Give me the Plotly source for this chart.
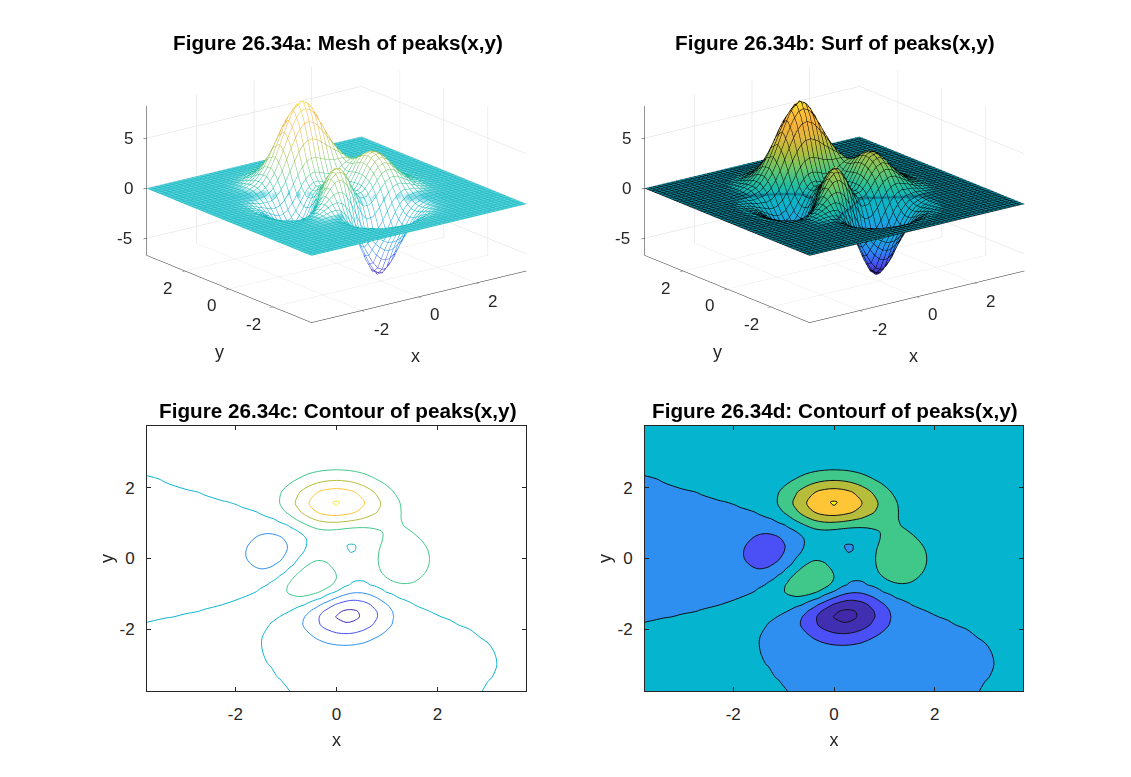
import math
import plotly.graph_objects as go

xs_main = [-3.75,-3.375,-3,-2.625,-2.25,-1.875,-1.5,-1.3125,-1.125,-.9375,-.75,-.5625,-.375,-.1875,0,.1875,.375,.5625,.75,.9375,1.125,1.3125,1.5,1.875,2.25,2.625,3,3.375,3.75]
ys_main = [-3.75,-3.375,-3,-2.625,-2.25,-1.875,-1.65,-1.5,-1.3125,-1.125,-.9375,-.75,-.5625,-.375,-.1875,0,.1875,.375,.5625,.75,.9375,1.125,1.3125,1.5,1.6,1.875,2.25,2.625,3,3.375,3.75]
z_main = [
[2.25e-8,2.68e-7,2.34e-6,1.49e-5,6.68e-5,2.09e-4,4.18e-4,4.57e-4,3.57e-4,2.93e-5,-5.7e-4,-.00143,-.00246,-.00346,-.00422,-.00459,-.00449,-.00399,-.00323,-.0024,-.00162,-.001,-5.65e-4,-1.35e-4,-2.07e-5,-1.54e-6,8.2e-8,3.7e-8,5e-9],
[1.42e-7,1.68e-6,1.45e-5,8.94e-5,3.9e-4,.00113,.00175,.00129,-4.3e-4,-.00398,-.00964,-.01714,-.0255,-.0333,-.0389,-.041,-.0394,-.0346,-.0278,-.0205,-.01388,-.00861,-.0049,-.00121,-2e-4,-1.93e-5,-4.3e-7,1.7e-7,2.9e-8],
[6.6e-7,7.8e-6,6.6e-5,4.04e-4,.00168,.00432,.0041,-.00161,-.0151,-.0393,-.0753,-.121,-.1704,-.2148,-.245,-.2546,-.2419,-.2109,-.1688,-.1241,-.0839,-.0522,-.0297,-.00744,-.00128,-1.36e-4,-6e-6,6.4e-7,1.4e-7],
[2.18e-6,2.65e-5,2.27e-4,.00136,.0055,.0128,.0037,-.0261,-.089,-.1961,-.3511,-.5443,-.7502,-.933,-1.054,-1.0884,-1.029,-.8938,-.7133,-.5235,-.3533,-.2191,-.1247,-.031,-.00521,-5.4e-4,-1.7e-5,3.6e-6,6.8e-7],
[4.59e-6,6.0e-5,5.45e-4,.00341,.0142,.0333,.0072,-.0761,-.2524,-.5547,-.9948,-1.547,-2.139,-2.668,-3.023,-3.127,-2.96,-2.571,-2.048,-1.498,-1.006,-.6185,-.3477,-.0825,-.0125,-9.0e-4,6.6e-5,2.6e-5,3.45e-6],
[2.03e-6,6.2e-5,7.5e-4,.00562,.027,.0785,.0886,-.0131,-.276,-.7744,-1.546,-2.561,-3.694,-4.748,-5.498,-5.773,-5.519,-4.813,-3.83,-2.779,-1.836,-1.1,-.5931,-.1181,-.0092,.00205,8.1e-4,1.38e-4,1.48e-5],
[-9.67e-6,-2.38e-5,3.5e-4,.00481,.0305,.1127,.2181,.1887,-.0057,-.4665,-1.269,-2.407,-3.753,-5.073,-6.077,-6.53,-6.33,-5.552,-4.407,-3.16,-2.036,-1.166,-.5822,-.0727,.0141,.00884,.00212,3.14e-4,3.19e-5],
[-2.6e-5,-1.6e-4,-4.6e-4,.00176,.0252,.125,.3264,.3935,.328,.0054,-.68,-1.755,-3.119,-4.534,-5.681,-6.279,-6.187,-5.46,-4.316,-3.042,-1.892,-1.013,-.4406,.01,.0454,.01696,.0036,5.1e-4,5.1e-5],
[-6.05e-5,-4.63e-4,-.0024,-.00686,.0017,.1041,.4334,.6641,.8404,.8207,.4514,-.3635,-1.581,-2.99,-4.258,-5.051,-5.164,-4.61,-3.593,-2.414,-1.348,-.558,-.083,.1852,.1066,.03213,.0063,8.57e-4,8.3e-5],
[-1.15e-4,-9.58e-4,-.00572,-.0228,-.0498,.0096,.4215,.821,1.282,1.654,1.732,1.338,.426,-.852,-2.165,-3.134,-3.484,-3.166,-2.359,-1.363,-.468,.1495,.4559,.4374,.1924,.0532,.01003,.00133,1.27e-4],
[-1.9e-4,-.00165,-.01054,-.0472,-.1358,-.1867,.1975,.71,1.419,2.1745,2.7285,2.813,2.283,1.217,-.0699,-1.156,-1.7,-1.588,-.9705,-.1497,.5674,.9961,1.107,.7459,.2981,.0791,.01464,.00193,1.83e-4],
[-2.8e-4,-.00252,-.01666,-.079,-.2547,-.489,-.2814,.2435,1.095,2.137,3.087,3.601,3.436,2.604,1.396,.2746,-.3572,-.3366,.2034,.9443,1.556,1.84,1.778,1.077,.4139,.108,.0198,.0026,2.47e-4],
[-3.78e-4,-.00344,-.02336,-.1148,-.3926,-.8632,-.9628,-.5283,.3362,1.523,2.732,3.56,3.69,3.069,1.977,.906,.3064,.3734,.9714,1.754,2.357,2.57,2.383,1.391,.5267,.1364,.02493,.00326,3.1e-4],
[-4.66e-4,-.00429,-.02962,-.1487,-.5272,-1.2433,-1.7115,-1.4365,-.6554,.5523,1.888,2.911,3.25,2.81,1.859,.9018,.421,.626,1.3675,2.266,2.9256,3.123,2.8616,1.65,.6214,.1606,.02932,.00384,3.64e-4],
[-5.31e-4,-.00493,-.0343,-.1747,-.6325,-1.553,-2.359,-2.257,-1.608,-.456,.906,2.03,2.514,2.231,1.43,.6192,.2888,.6478,1.534,2.546,3.267,3.471,3.169,1.819,.684,.1766,.03224,.00422,4.0e-4],
[-5.59e-4,-.00521,-.0365,-.1877,-.6887,-1.732,-2.774,-2.817,-2.304,-1.255,.064,1.211,1.781,1.629,.981,.3236,.1307,.6026,1.572,2.637,3.383,3.586,3.269,1.873,.7035,.1816,.03314,.00434,4.12e-4],
[-5.45e-4,-.0051,-.0359,-.1856,-.6872,-1.754,-2.897,-3.037,-2.648,-1.73,-.5187,.5777,1.174,1.121,.6161,.1022,.015,.5369,1.507,2.546,3.265,3.457,3.148,1.801,.6759,.1744,.03184,.00417,3.95e-4],
[-4.94e-4,-.00463,-.03272,-.1697,-.6318,-1.627,-2.7365,-2.919,-2.628,-1.852,-.7905,.1988,.7723,.7885,.4109,.0209,-.0021,.4998,1.385,2.316,2.955,3.118,2.834,1.618,.6066,.1565,.02855,.00374,3.55e-4],
[-4.16e-4,-.00391,-.02763,-.1436,-.5356,-1.383,-2.336,-2.498,-2.255,-1.59,-.6672,.2153,.7625,.8438,.5823,.2859,.2676,.6625,1.36,2.091,2.579,2.678,2.411,1.365,.51,.1313,.02394,.00313,2.97e-4],
[-3.25e-4,-.00306,-.0216,-.1121,-.4166,-1.0666,-1.76,-1.83,-1.554,-.9149,-.0456,.8061,1.387,1.568,1.423,1.178,1.083,1.2605,1.649,2.063,2.307,2.276,1.992,1.096,.4046,.1036,.01882,.00245,2.33e-4],
[-2.36e-4,-.00221,-.01556,-.08004,-.2929,-.725,-1.0905,-1.003,-.6023,.1229,1.063,2.004,2.7145,3.051,3.026,2.79,2.535,2.388,2.352,2.343,2.251,2.019,1.664,.8583,.3073,.0774,.01395,.00181,1.71e-4],
[-1.59e-4,-.00147,-.01023,-.0515,-.1807,-.4059,-.4301,-.1527,.4292,1.323,2.429,3.551,4.462,4.989,5.082,4.823,4.359,3.836,3.331,2.854,2.387,1.915,1.451,.6732,.2279,.0557,.00984,.00126,1.2e-4],
[-9.73e-5,-8.91e-4,-.00602,-.02888,-.0912,-.1474,.1174,.5647,1.319,2.38,3.656,4.961,6.062,6.759,6.95,6.658,6.005,5.152,4.238,3.36,2.566,1.88,1.312,.5372,.1679,.03902,.00669,8.43e-4,7.78e-5],
[-5.46e-5,-4.82e-4,-.00308,-.01311,-.0293,.0283,.4784,1.027,1.874,3.018,4.375,5.764,6.96,7.749,7.997,7.692,6.93,5.881,4.723,3.601,2.614,1.806,1.185,.4329,.1237,.02698,.00443,5.4e-4,4.9e-5],
[-3.84e-5,-3.29e-4,-.00198,-.00736,-.0074,.0871,.586,1.152,2.004,3.14,4.48,5.855,7.045,7.84,8.099,7.798,7.024,5.942,4.737,3.569,2.547,1.723,1.105,.384,.1048,.02205,.00352,4.2e-4,3.74e-5],
[-1.18e-5,-8.4e-5,-2.99e-4,1.0e-3,.021,.1454,.6225,1.116,1.834,2.773,3.871,5.0,5.985,6.656,6.886,6.64,5.978,5.034,3.971,2.938,2.043,1.336,.8224,.2597,.0642,.01232,.00182,2.05e-4,1.74e-5],
[-8.1e-7,6.8e-6,2.05e-4,.00243,.0183,.0958,.3627,.6277,1.0066,1.497,2.068,2.656,3.172,3.526,3.65,3.523,3.171,2.664,2.09,1.533,1.051,.6747,.4053,.1202,.0275,.00484,6.6e-4,6.8e-5,5.4e-6],
[4.0e-7,8.8e-6,1.17e-4,.00108,.00725,.0357,.13,.2226,.354,.5235,.7206,.9233,1.1016,1.2244,1.268,1.2239,1.101,.9246,.7241,.5292,.361,.2301,.1369,.0396,.00873,.00147,1.9e-4,1.9e-5,1.4e-6],
[1.6e-7,2.7e-6,3.2e-5,2.8e-4,.0018,.00867,.0312,.05308,.0841,.1241,.1707,.2185,.2606,.2896,.2999,.2896,.2605,.2187,.1711,.1248,.085,.054,.032,.00915,.00198,3.3e-4,4.1e-5,3.9e-6,2.8e-7],
[3.2e-8,5.0e-7,5.7e-6,4.8e-5,3.05e-4,.00145,.00518,.0088,.0139,.0205,.0282,.03607,.043,.04779,.0495,.04779,.043,.03609,.0282,.02058,.014,.00888,.00526,.00149,3.2e-4,5.2e-5,6.5e-6,6.1e-7,4.3e-8],
[4.0e-9,6.1e-8,6.8e-7,5.7e-6,3.6e-5,1.7e-4,6.06e-4,.00103,.00163,.0024,.00329,.00421,.00502,.00558,.00578,.00558,.00502,.00421,.00329,.0024,.00163,.00103,6.1e-4,1.7e-4,3.7e-5,6.0e-6,7.4e-7,6.9e-8,4.8e-9],
]
# extra column x=0.28 (one value per row of z_main) and extra row y=0.28 (one value per column incl. x=0.28)
x_extra = 0.28
z_col_extra = [-.00459,-.04067,-.25103,-1.0703,-3.0767,-5.712,-6.5114,-6.32,-5.196,-3.392,-1.5055,-.1155,.5313,.5837,.3746,.1494,-.0134,-.0532,.228,1.1011,2.6563,4.6093,6.3715,7.3628,7.4663,6.3587,3.3733,1.172,.2773,.04577,.00534]
y_extra = 0.28
z_row_extra = [-5.24e-4,-.00491,-.03463,-.1793,-.6659,-1.708,-2.851,-3.019,-2.683,-1.835,-.6948,.3532,.9422,.9259,.4857,.0358,-.0567,-.0137,.5078,1.447,2.444,3.13,3.311,3.013,1.7225,.6462,.1667,.03043,.00399,3.77e-4]

xi = xs_main.index(.375)
yi = ys_main.index(.375)
xs = xs_main[:xi] + [x_extra] + xs_main[xi:]
ys = ys_main[:yi] + [y_extra] + ys_main[yi:]
z = [row[:xi] + [cv] + row[xi:] for row, cv in zip(z_main, z_col_extra)]
z.insert(yi, z_row_extra)

titles = ["Figure 26.34a: Mesh of peaks(x,y)", "Figure 26.34b: Surf of peaks(x,y)",
          "Figure 26.34c: Contour of peaks(x,y)", "Figure 26.34d: Contourf of peaks(x,y)"]
tick_xy = [-2, 0, 2]
tick_z = [-5, 0, 5]

W, H = 1131, 777
FONT = "Liberation Sans, Arial, sans-serif"
INK = "#262626"
SCALE = 1.4367
parula = [[0, "#3e26a8"], [.1, "#4752f4"], [.2, "#2e87f7"], [.3, "#1aa6e0"], [.4, "#0cb5c7"],
          [.5, "#21bf9e"], [.6, "#6cc66a"], [.7, "#b4bd3c"], [.78, "#dcb83e"], [.86, "#f6b13a"], [.94, "#fcc238"], [1, "#f8e020"]]
# same map with the nearly flat sheet dimmed: in the reference its tightly packed black wires hide most of the face
parula_surf = [[0, "#3e26a8"], [.1, "#4752f4"], [.2, "#2e87f7"], [.3, "#1aa6e0"], [.4, "#0cb5c7"], [.4375, "#0cb3c4"],
               [.4436, "#0a7f92"], [.4505, "#0a7f92"], [.457, "#14b8b8"],
               [.5, "#21bf9e"], [.6, "#6cc66a"], [.7, "#b4bd3c"], [.78, "#dcb83e"], [.86, "#f6b13a"], [.94, "#fcc238"], [1, "#f8e020"]]
CLEAR = "rgba(0,0,0,0)"
flat = dict(ambient=1, diffuse=0, specular=0, fresnel=0, roughness=1)

# The zero level runs through a field that decays by orders of magnitude between grid nodes;
# it is traced on the same values with that decay divided out so the sign changes stay in place.
z_level0 = [[v * math.exp(x * x + y * y) for x, v in zip(xs, row)] for y, row in zip(ys, z)]
z_neg = [[-v for v in row] for row in z]
# hidden-line faces of the mesh: white where the wires open up, tinted on the nearly flat sheet where they pack together
z_abs = [[abs(v) for v in row] for row in z]
face_scale = [[0, "#56cfe0"], [.12, "#7ad8e6"], [.4, "#ffffff"], [1, "#ffffff"]]

fig = go.Figure()

def gridlines(color=None, width=1):
    d = dict(show=True, start=-3.75, end=3.75, size=0.15625, width=width)
    if color:
        d["color"] = color
    else:
        d["usecolormap"] = True
    return d

fig.add_trace(go.Surface(x=xs, y=ys, z=z, surfacecolor=z_abs, scene="scene", colorscale=face_scale, cmin=0, cmax=1,
                         showscale=False, lighting=flat, hoverinfo="skip"))
fig.add_trace(go.Surface(x=xs, y=ys, z=z, scene="scene", colorscale=parula, cmin=-6.55, cmax=8.1,
                         showscale=False, hidesurface=True, lighting=flat,
                         contours=dict(x=gridlines(width=2), y=gridlines(width=2))))
fig.add_trace(go.Surface(x=xs, y=ys, z=z, scene="scene2", colorscale=parula_surf, cmin=-6.55, cmax=8.1,
                         showscale=False, lighting=flat,
                         contours=dict(x=gridlines("black"), y=gridlines("black"))))

def cont(field, ax, start, end, size, coloring, scale=None, color=None):
    return go.Contour(x=xs, y=ys, z=field, xaxis="x" + ax, yaxis="y" + ax, colorscale=scale, showscale=False,
                      autocontour=False, hoverinfo="skip",
                      contours=dict(start=start, end=end, size=size, coloring=coloring),
                      line=dict(width=1, smoothing=1, **({"color": color} if color else {})))

# (c)
fig.add_trace(cont(z_level0, "", 0, 0, 1, "none", color="#0cb5d0"))
fig.add_trace(cont(z, "", -6, -2, 2, "lines", [[0, "#3f2ab0"], [.5, "#4650f0"], [1, "#2e8ff0"]]))
fig.add_trace(cont(z, "", 2, 8, 2, "lines", [[0, "#40c88a"], [1 / 3, "#b5bd3a"], [2 / 3, "#fec636"], [1, "#f7e81a"]]))
# (d)
fig.add_trace(cont(z_level0, "2", 0, 0, 2, "fill", [[0, "#2e8ff0"], [1, "#05b5cf"]], color="#101018"))
fig.add_trace(cont(z_neg, "2", 2, 6, 2, "fill", [[0, CLEAR], [1 / 3, "#4a50f5"], [2 / 3, "#402fb0"], [1, "#4028a8"]], color="#101018"))
fig.add_trace(cont(z, "2", 2, 8, 2, "fill", [[0, CLEAR], [.25, "#40c88a"], [.5, "#b5bd3a"], [.75, "#fec636"], [1, "#f7fa10"]], color="#101018"))

def axis3d(vals, rng):
    return dict(range=rng, tickvals=vals, title=dict(text=""), showticklabels=False,
                showgrid=True, gridcolor="#dcdcdc", gridwidth=1,
                zeroline=False, showline=True, linecolor=INK, linewidth=1, ticks="outside", ticklen=4,
                tickcolor=INK, showbackground=False, showspikes=False, autorange=False)

def label3d(text, x, y, zv, dx, dy, size=17):
    return dict(text=text, x=x, y=y, z=zv, xshift=dx, yshift=-dy, showarrow=False, xanchor="center", yanchor="middle",
                font=dict(size=size, color=INK, family=FONT))

def scene(cx, cy=188.5, w=473, h=377):
    notes = []
    for t in tick_xy:
        notes.append(label3d(str(t), t, -3.75, -6.7, 20 if t < 0 else 16, 19 if t < 0 else 18))
        notes.append(label3d(str(t), -3.75, t, -6.7, -20 if t < 0 else -18, 18 if t < 0 else 17))
    for t in tick_z:
        notes.append(label3d(str(t), -3.75, 3.75, t, -22 if t < 0 else -18, 0))
    notes.append(label3d("x", 0, -3.75, -6.7, -3, 59, 18))
    notes.append(label3d("y", -3.75, 0, -6.7, -10, 63, 18))
    return dict(domain=dict(x=[(cx - w / 2) / W, (cx + w / 2) / W], y=[1 - (cy + h / 2) / H, 1 - (cy - h / 2) / H]),
                xaxis=axis3d(tick_xy, [-3.75, 3.75]),
                yaxis=axis3d(tick_xy, [-3.75, 3.75]),
                zaxis=axis3d(tick_z, [-6.7, 8.2]),
                aspectmode="manual", aspectratio=dict(x=SCALE, y=SCALE, z=0.5806 * SCALE),
                bgcolor="white", annotations=notes,
                camera=dict(projection=dict(type="orthographic"), up=dict(x=0, y=0, z=1),
                            center=dict(x=0, y=0, z=0), eye=dict(x=-.578 * 2.2, y=-.753 * 2.2, z=.313 * 2.2)))

def axis2d(dom, anchor, title, standoff):
    return dict(domain=dom, anchor=anchor, range=[-3.75, 3.75], tickvals=tick_xy, ticktext=[str(t) for t in tick_xy],
                ticks="inside", ticklen=4, ticklabelstandoff=8,
                tickcolor=INK, showline=True, linecolor=INK, linewidth=1, mirror="ticks", showgrid=False,
                zeroline=False, title=dict(text=title, font=dict(size=18, color=INK, family=FONT), standoff=standoff),
                tickfont=dict(size=17, color=INK, family=FONT))

xd = [[147 / W, 526 / W], [645 / W, 1023 / W]]
yd = [1 - 691 / H, 1 - 426 / H]
annots = [dict(text="<b>%s</b>" % t, x=px / W, y=1 - py / H, xref="paper", yref="paper", showarrow=False,
               xanchor="center", yanchor="middle", font=dict(size=20.7, color="black", family=FONT))
          for t, px, py in zip(titles, [337.5, 835, 337.5, 835], [42.5, 42.5, 410.5, 410.5])]

fig.update_layout(width=W, height=H, margin=dict(l=0, r=0, t=0, b=0), paper_bgcolor="white", plot_bgcolor="white",
                  showlegend=False, annotations=annots,
                  scene=scene(336.5), scene2=scene(834.5),
                  xaxis=axis2d(xd[0], "y", "x", 9), yaxis=axis2d(yd, "x", "y", 1),
                  xaxis2=axis2d(xd[1], "y2", "x", 9), yaxis2=axis2d(yd, "x2", "y", 1))
fig.write_html("out.html", config=dict(displayModeBar=False), post_script="document.body.style.margin='0';")
